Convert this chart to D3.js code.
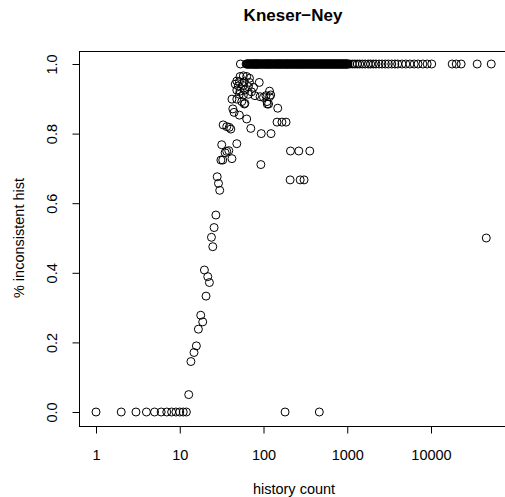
<!DOCTYPE html>
<html>
<head>
<meta charset="utf-8">
<script src="https://cdn.jsdelivr.net/npm/d3@7"></script>
<style>
  body { margin: 0; background: #fff; }
  svg text { font-family: "Liberation Sans", Arial, Helvetica, sans-serif; fill: #000; }
</style>
</head>
<body>
<div id="chart"></div>
<script>
// history counts where every history was inconsistent (y = 1)
const fullCounts = [53, 62, 63, 64, 65, 66, 67, 68, 69, 70, 71, 72, 73, 74, 75, 76, 77,
  78, 79, 80, 81, 82, 83, 84, 85, 86, 87, 88, 89, 91, 92, 94, 95, 97, 98, 100, 101, 103,
  104, 106, 107, 109, 110, 112, 113, 115, 116, 118, 119, 121, 122, 124, 126, 128, 130,
  132, 134, 136, 138, 140, 142, 144, 146, 148, 150, 152, 154, 156, 158, 160, 162, 165,
  167, 170, 172, 175, 177, 180, 182, 185, 187, 190, 192, 195, 197, 200, 203, 206, 209,
  212, 215, 218, 221, 224, 227, 230, 234, 237, 241, 244, 248, 251, 255, 258, 262, 265,
  269, 272, 276, 280, 284, 288, 292, 296, 300, 304, 308, 313, 317, 322, 326, 331, 335,
  340, 345, 350, 355, 360, 365, 370, 375, 380, 386, 391, 397, 402, 408, 413, 419, 425,
  431, 437, 443, 449, 456, 462, 469, 475, 482, 488, 495, 502, 509, 516, 523, 530, 538,
  545, 553, 560, 568, 576, 584, 592, 600, 608, 617, 625, 634, 642, 651, 660, 669, 678,
  688, 697, 707, 716, 726, 736, 746, 756, 767, 777, 788, 799, 810, 821, 833, 844, 856,
  867, 879, 891, 904, 916, 929, 942, 955, 968, 982, 995, 1009, 1022,
  1070, 1150, 1230, 1320, 1410, 1520, 1640, 1780, 1900, 2050, 2200, 2400, 2600, 2850,
  3100, 3400, 3700, 4000, 4500, 5000, 5600, 6300, 7000, 8000, 9000, 10200, 17900, 20000,
  22900, 35600, 52400];

// history counts with no inconsistent history (y = 0)
const zeroCounts = [1, 2, 3, 4, 5, 6, 7, 8, 9, 10, 11, 12, 181, 464];

// everything in between
const midCounts = [52.5, 57.5, 63, 68, 48, 51.5, 59, 68, 89, 46, 50, 57.5, 66, 76, 48,
  52.5, 60, 72, 118, 51.5, 57.5, 66, 79, 91, 100, 107, 118, 122, 42, 48, 55, 60, 59, 110,
  115, 111, 148, 43, 44.5, 51.5, 63, 70.5, 33, 36.4, 39, 40.7, 94, 123, 145, 166, 186,
  31.7, 48, 36.4, 34.8, 38.5, 31, 32.6, 42, 93, 28, 29, 30, 27, 25.7, 23.9, 24.8, 20.6,
  19.7, 21.6, 22.6, 17.8, 18.8, 16.7, 15.8, 14.8, 13.6, 12.8, 210, 264, 357, 208, 274,
  305, 45700];
const midPct = [0.964, 0.966, 0.964, 0.959, 0.951, 0.949, 0.949, 0.947, 0.947, 0.942,
  0.937, 0.938, 0.935, 0.933, 0.925, 0.922, 0.925, 0.92, 0.922, 0.913, 0.911, 0.913,
  0.909, 0.906, 0.904, 0.909, 0.906, 0.911, 0.899, 0.899, 0.892, 0.887, 0.885, 0.892,
  0.885, 0.885, 0.873, 0.871, 0.861, 0.853, 0.842, 0.815, 0.825, 0.82, 0.818, 0.813,
  0.8, 0.8, 0.833, 0.833, 0.833, 0.768, 0.771, 0.749, 0.745, 0.751, 0.724, 0.724, 0.728,
  0.711, 0.676, 0.657, 0.637, 0.566, 0.53, 0.502, 0.475, 0.333, 0.408, 0.389, 0.372,
  0.278, 0.259, 0.238, 0.19, 0.171, 0.145, 0.05, 0.75, 0.75, 0.75, 0.667, 0.667, 0.667,
  0.5];

const xTicks = [1, 10, 100, 1000, 10000];
const yTicks = [0, 0.2, 0.4, 0.6, 0.8, 1.0];

const title = 'Kneser\u2212Ney';
const xLabel = 'history count';
const yLabel = '% inconsistent hist';

const points = [];
fullCounts.forEach((c) => points.push({ count: c, pct: 1 }));
zeroCounts.forEach((c) => points.push({ count: c, pct: 0 }));
midCounts.forEach((c, i) => points.push({ count: c, pct: midPct[i] }));

const width = 505;
const height = 497;
const box = { left: 79, top: 51, right: 510, bottom: 426 };

const svg = d3.select('#chart').append('svg')
  .attr('width', width)
  .attr('height', height);

const x = d3.scaleLog()
  .domain([1, 10000])
  .range([96, 431]);
const y = d3.scaleLinear()
  .domain([0, 1])
  .range([412, 64]);

// plot frame (right side runs off the picture, like the cropped original)
svg.append('rect')
  .attr('x', box.left + 0.5)
  .attr('y', box.top + 0.5)
  .attr('width', box.right - box.left)
  .attr('height', box.bottom - box.top)
  .attr('fill', 'none')
  .attr('stroke', '#000')
  .attr('stroke-width', 1);

// x axis
const xAxis = svg.append('g')
  .attr('transform', `translate(0,${box.bottom + 0.5})`)
  .call(d3.axisBottom(x)
    .tickValues(xTicks)
    .tickSize(7)
    .tickPadding(16)
    .tickFormat(d3.format('d')));
xAxis.select('.domain').remove();
xAxis.selectAll('text')
  .attr('font-size', 14.5)
  .attr('font-family', null);

// y axis, labels rotated like base R
const yAxis = svg.append('g')
  .attr('transform', `translate(${box.left + 0.5},0)`)
  .call(d3.axisLeft(y)
    .tickValues(yTicks)
    .tickSize(7)
    .tickFormat(d3.format('.1f')));
yAxis.select('.domain').remove();
yAxis.selectAll('text')
  .attr('font-size', 14.5)
  .attr('font-family', null)
  .attr('x', null)
  .attr('dy', null)
  .attr('text-anchor', 'middle')
  .attr('transform', 'translate(-23,0) rotate(-90)');

// points
svg.append('g')
  .selectAll('circle')
  .data(points)
  .enter().append('circle')
    .attr('cx', (d) => x(d.count))
    .attr('cy', (d) => y(d.pct))
    .attr('r', 4)
    .attr('fill', 'none')
    .attr('stroke', '#000')
    .attr('stroke-width', 1);

svg.append('text')
  .attr('x', 293)
  .attr('y', 21)
  .attr('text-anchor', 'middle')
  .attr('font-size', 17)
  .attr('font-weight', 'bold')
  .text(title);

svg.append('text')
  .attr('x', 294)
  .attr('y', 494)
  .attr('text-anchor', 'middle')
  .attr('font-size', 14.5)
  .text(xLabel);

svg.append('text')
  .attr('transform', 'translate(24,238) rotate(-90)')
  .attr('text-anchor', 'middle')
  .attr('font-size', 14.5)
  .text(yLabel);
</script>
</body>
</html>
